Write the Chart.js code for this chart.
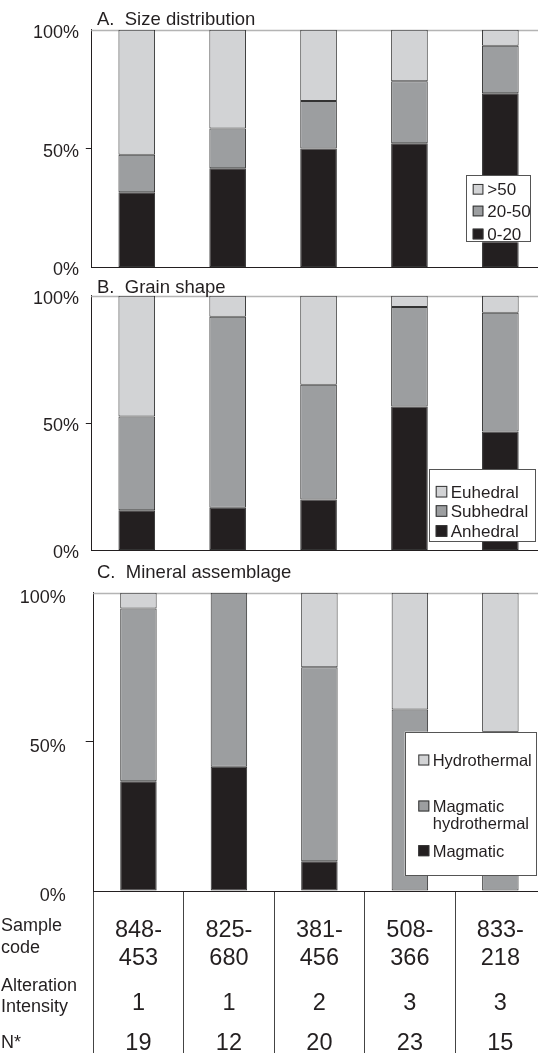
<!DOCTYPE html>
<html>
<head>
<meta charset="utf-8">
<script src="https://cdn.jsdelivr.net/npm/chart.js@4.4.1/dist/chart.umd.min.js"></script>
<style>
  html, body { margin: 0; padding: 0; width: 538px; height: 1053px; overflow: hidden; background: #fff; }
  canvas.panel { position: absolute; left: 0; }
</style>
</head>
<body>
<canvas id="panelA" class="panel" width="560" height="285" style="top:0px;width:560px;height:285px"></canvas>
<canvas id="panelB" class="panel" width="560" height="292" style="top:276px;width:560px;height:292px"></canvas>
<canvas id="panelC" class="panel" width="560" height="491" style="top:562px;width:560px;height:491px"></canvas>
<script>
// Samples, ordered by alteration intensity
const sampleCodes = ['848-453', '825-680', '381-456', '508-366', '833-218'];
const alterationIntensity = [1, 1, 2, 3, 3];
const grainCounts = [19, 12, 20, 23, 15];
const yTickLabels = { 0: '0%', 50: '50%', 100: '100%' };

// A. Size distribution (% of grains per size class)
const sizeLabels = ['0-20', '20-50', '>50'];
const size0to20 = [31.6, 41.7, 50.0, 52.2, 73.3];
const size20to50 = [15.8, 16.7, 20.0, 26.1, 20.0];
const sizeOver50 = [52.6, 41.6, 30.0, 21.7, 6.7];

// B. Grain shape (%)
const shapeLabels = ['Anhedral', 'Subhedral', 'Euhedral'];
const anhedral = [15.8, 16.7, 20.0, 56.5, 46.7];
const subhedral = [36.8, 75.0, 45.0, 39.1, 46.6];
const euhedral = [47.4, 8.3, 35.0, 4.4, 6.7];

// C. Mineral assemblage (%)
const assemblageLabels = ['Magmatic', 'Magmatic hydrothermal', 'Hydrothermal'];
const magmatic = [36.8, 41.7, 10.0, 0, 0];
const magmaticHydrothermal = [57.9, 58.3, 65.0, 60.9, 53.3];
const hydrothermal = [5.3, 0, 25.0, 39.1, 46.7];

const INK = '#231f20';
const SHADES = ['#231f20', '#9c9ea0', '#d2d3d5'];
const FONT = '"Liberation Sans", Arial, Helvetica, sans-serif';
Chart.defaults.font.family = FONT;
Chart.defaults.color = INK;

function wrapWords(ctx, text, maxW) {
  const words = text.split(' ');
  const lines = [];
  let cur = '';
  words.forEach(w => {
    const t = cur ? cur + ' ' + w : w;
    if (cur && ctx.measureText(t).width > maxW) { lines.push(cur); cur = w; }
    else cur = t;
  });
  if (cur) lines.push(cur);
  return lines;
}

function capText(ctx, text, x, centerY, size) {
  ctx.fillText(text, x, centerY + size * 0.358);
}

const panelDecor = {
  id: 'panelDecor',
  beforeDatasetsDraw(chart, args, opts) {
    const { ctx, chartArea } = chart;
    const yTop = Math.round(chart.scales.y.getPixelForValue(100)) + 0.5;
    ctx.save();
    ctx.strokeStyle = '#b4b4b4';
    ctx.lineWidth = 1.5;
    ctx.beginPath();
    ctx.moveTo(chartArea.left, yTop);
    ctx.lineTo(chart.width, yTop);
    ctx.stroke();
    ctx.restore();
  },
  afterDatasetsDraw(chart, args, opts) {
    const { ctx, chartArea } = chart;
    const y0 = Math.round(chart.scales.y.getPixelForValue(0)) + 0.5;
    ctx.save();
    ctx.strokeStyle = INK;
    ctx.lineWidth = 1;
    ctx.beginPath();
    ctx.moveTo(chartArea.left, y0);
    ctx.lineTo(chart.width, y0);
    ctx.stroke();
    ctx.restore();
  },
  afterDraw(chart, args, opts) {
    const { ctx } = chart;
    ctx.save();
    ctx.fillStyle = INK;
    ctx.textAlign = 'left';
    ctx.textBaseline = 'alphabetic';
    ctx.font = opts.titleSize + 'px ' + FONT;
    ctx.fillText(opts.title, opts.titleX, opts.titleBaseline);

    // legend box, top entry = last stacked series
    const L = opts.legend;
    ctx.fillStyle = '#fff';
    ctx.fillRect(L.x, L.y, L.w, L.h);
    ctx.strokeStyle = '#555';
    ctx.lineWidth = 1;
    ctx.strokeRect(Math.round(L.x) + 0.5, Math.round(L.y) + 0.5, Math.round(L.w) - 1, Math.round(L.h) - 1);
    ctx.font = L.size + 'px ' + FONT;
    const items = chart.data.datasets.slice().reverse();
    items.forEach((ds, i) => {
      const cy = L.rows[i];
      ctx.fillStyle = ds.backgroundColor;
      ctx.fillRect(L.swatchX, cy - L.swatch / 2, L.swatch, L.swatch);
      ctx.strokeStyle = '#333';
      ctx.strokeRect(L.swatchX + 0.5, cy - L.swatch / 2 + 0.5, L.swatch - 1, L.swatch - 1);
      ctx.fillStyle = INK;
      const lines = wrapWords(ctx, ds.label, L.wrap);
      lines.forEach((ln, j) => capText(ctx, ln, L.textX, cy + j * L.lineH, L.size));
    });

    // sample table below the category axis
    if (opts.table) {
      const xs = chart.scales.x;
      const base = chart.chartArea.bottom;
      const T = opts.table;
      ctx.fillStyle = INK;
      ctx.textAlign = 'left';
      ctx.font = T.labelSize + 'px ' + FONT;
      T.rowLabels.forEach(r => capText(ctx, r.text, T.labelX, base + r.dy, T.labelSize));
      ctx.textAlign = 'center';
      ctx.font = T.valueSize + 'px ' + FONT;
      sampleCodes.forEach((code, i) => {
        const cx = xs.getPixelForValue(i);
        const cut = code.indexOf('-') + 1;
        capText(ctx, code.slice(0, cut), cx, base + T.codeDy[0], T.valueSize);
        capText(ctx, code.slice(cut), cx, base + T.codeDy[1], T.valueSize);
        capText(ctx, String(alterationIntensity[i]), cx, base + T.intensityDy, T.valueSize);
        capText(ctx, String(grainCounts[i]), cx, base + T.countDy, T.valueSize);
      });
    }
    ctx.restore();
  }
};

function makePanel(id, cfg) {
  const datasets = cfg.series.map((s, i) => ({
    label: s.label,
    data: s.data,
    backgroundColor: SHADES[i],
    borderColor: '#333',
    borderWidth: 1,
    borderSkipped: false,
    categoryPercentage: 1,
    barPercentage: 0.403
  }));
  const xAxis = cfg.table ? {
    stacked: true,
    display: true,
    afterFit(scale) { scale.height = cfg.tableHeight; },
    ticks: { display: false },
    grid: { offset: true, drawOnChartArea: false, drawTicks: true, tickLength: cfg.tableHeight, color: '#444', lineWidth: 1 },
    border: { display: true, color: INK, width: 1 }
  } : { stacked: true, display: false };
  return new Chart(document.getElementById(id), {
    type: 'bar',
    data: { labels: sampleCodes, datasets },
    plugins: [panelDecor],
    options: {
      responsive: false,
      animation: false,
      events: [],
      layout: { padding: cfg.padding },
      plugins: {
        legend: { display: false },
        tooltip: { enabled: false },
        panelDecor: {
          title: cfg.title, titleX: 97, titleBaseline: cfg.titleBaseline, titleSize: 18.5,
          legend: cfg.legend,
          table: cfg.table || null
        }
      },
      scales: {
        x: xAxis,
        y: {
          stacked: true,
          min: 0, max: 100,
          afterFit(scale) { scale.width = cfg.axisWidth; },
          ticks: {
            stepSize: 50,
            callback: v => yTickLabels[v],
            font: { size: 18 },
            color: INK,
            padding: cfg.tickPad,
            labelOffset: cfg.labelOffset
          },
          grid: {
            drawOnChartArea: false,
            drawTicks: true,
            tickLength: cfg.tickLen,
            lineWidth: 1,
            color: c => (c.tick && c.tick.value === 50) ? INK : 'rgba(0,0,0,0)'
          },
          border: { display: true, color: INK, width: 1 }
        }
      }
    }
  });
}

makePanel('panelA', {
  title: 'A.  Size distribution',
  titleBaseline: 24.5,
  series: [
    { label: sizeLabels[0], data: size0to20 },
    { label: sizeLabels[1], data: size20to50 },
    { label: sizeLabels[2], data: sizeOver50 }
  ],
  padding: { left: 0, top: 29.7, right: 14.2, bottom: 13 },
  axisWidth: 91.3, tickLen: 5.5, tickPad: 6.8, labelOffset: 3,
  legend: { x: 465.7, y: 175, w: 65.3, h: 67.3, rows: [189.3, 211, 234], swatchX: 472.7, swatch: 10.7, textX: 487.3, size: 17, lineH: 17, wrap: 200 }
});

makePanel('panelB', {
  title: 'B.  Grain shape',
  titleBaseline: 17,
  series: [
    { label: shapeLabels[0], data: anhedral },
    { label: shapeLabels[1], data: subhedral },
    { label: shapeLabels[2], data: euhedral }
  ],
  padding: { left: 0, top: 19.7, right: 14.2, bottom: 10.5 },
  axisWidth: 91.3, tickLen: 5.5, tickPad: 6.8, labelOffset: 3,
  legend: { x: 429.3, y: 193.3, w: 107.4, h: 72.7, rows: [215.7, 235, 255], swatchX: 435.7, swatch: 11.6, textX: 450.7, size: 17, lineH: 17, wrap: 200 }
});

makePanel('panelC', {
  title: 'C.  Mineral assemblage',
  titleBaseline: 16,
  series: [
    { label: assemblageLabels[0], data: magmatic },
    { label: assemblageLabels[1], data: magmaticHydrothermal },
    { label: assemblageLabels[2], data: hydrothermal }
  ],
  padding: { left: 0, top: 21, right: 14.4, bottom: 0 },
  axisWidth: 93.2, tickLen: 7.5, tickPad: 20, labelOffset: 5,
  tableHeight: 162,
  legend: { x: 404.7, y: 169.7, w: 132, h: 144.3, rows: [198, 244, 288.7], swatchX: 418.3, swatch: 11, textX: 432.7, size: 16.5, lineH: 17.3, wrap: 100 },
  table: {
    labelX: 1, labelSize: 18, valueSize: 23.5,
    rowLabels: [
      { text: 'Sample', dy: 33.7 }, { text: 'code', dy: 56 },
      { text: 'Alteration', dy: 93.3 }, { text: 'Intensity', dy: 114.7 },
      { text: 'N*', dy: 150.7 }
    ],
    codeDy: [37.7, 66], intensityDy: 110.7, countDy: 151
  }
});
</script>
</body>
</html>
